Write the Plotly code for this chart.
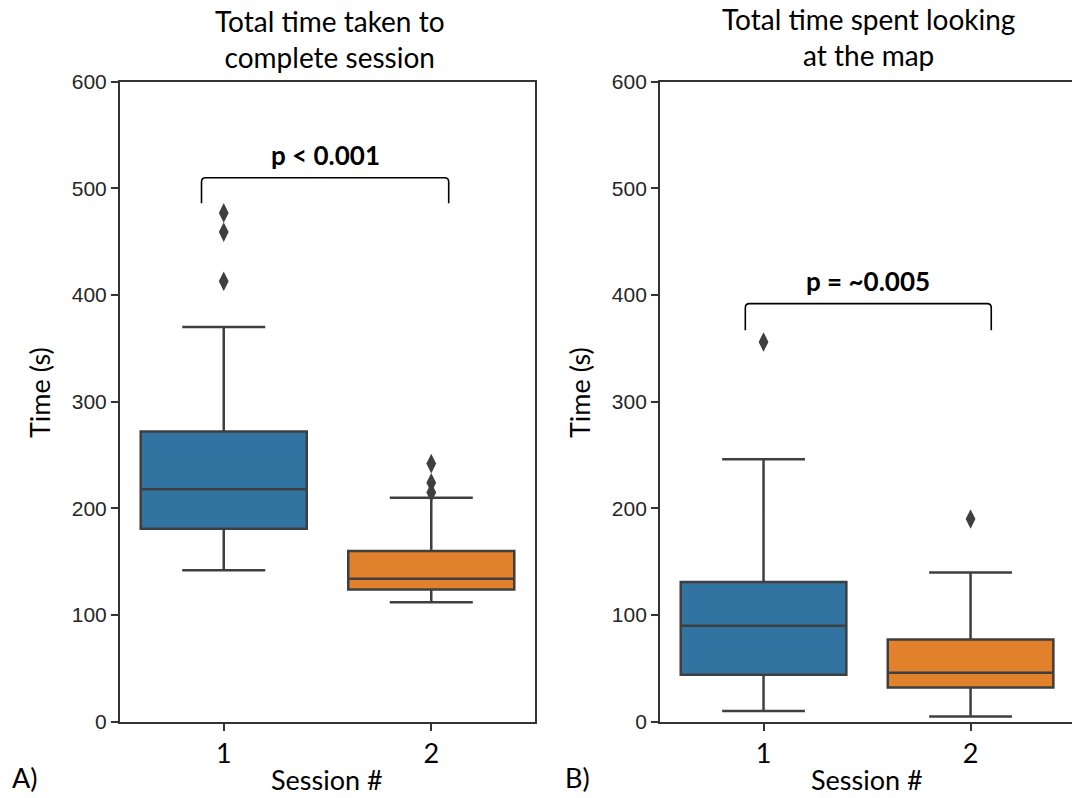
import plotly.graph_objects as go

# ---- data ----
sessions = ["1", "2"]
# Panel A: total time taken to complete session
a_q1 = [181, 124]
a_median = [218, 134]
a_q3 = [272, 160]
a_lower = [142, 112]
a_upper = [370, 210]
a_outliers = [[477, 459, 413], [242, 224, 215]]
a_pvalue = "p < 0.001"
a_bracket = [486, 510]  # bottom, top of bracket

# Panel B: total time spent looking at the map
b_q1 = [44, 32]
b_median = [90, 46]
b_q3 = [131, 77]
b_lower = [10, 5]
b_upper = [246, 140]
b_outliers = [[356], [190]]
b_pvalue = "p = ~0.005"
b_bracket = [367, 392]

y_ticks = [0, 100, 200, 300, 400, 500, 600]

colors = ["#3274a1", "#e1812c"]
edge = "#3f3f3f"
title_font = "Lato, Open Sans, sans-serif"
tick_font = "Liberation Sans, Arial, sans-serif"

fig = go.Figure()

panels = [
    ("x", "y", a_q1, a_median, a_q3, a_lower, a_upper, a_outliers, a_pvalue, a_bracket, (-0.107, 1.084)),
    ("x2", "y2", b_q1, b_median, b_q3, b_lower, b_upper, b_outliers, b_pvalue, b_bracket, (-0.088, 1.10)),
]

for xr, yr, q1, med, q3, lo, up, outs, ptxt, br, bx in panels:
    for i in range(len(sessions)):
        fig.add_trace(go.Box(
            x=[i], q1=[q1[i]], median=[med[i]], q3=[q3[i]],
            lowerfence=[lo[i]], upperfence=[up[i]],
            width=0.8, whiskerwidth=0.5,
            fillcolor=colors[i], line=dict(color=edge, width=2.5),
            boxpoints=False, xaxis=xr, yaxis=yr, showlegend=False,
        ))
        fig.add_trace(go.Scatter(
            x=[i] * len(outs[i]), y=outs[i], mode="markers",
            marker=dict(symbol="diamond-tall", size=14, color=edge),
            xaxis=xr, yaxis=yr, showlegend=False,
        ))
    x0, x1 = bx
    yb, yt = br
    r = 0.02
    ry = 4
    path = (f"M {x0},{yb} L {x0},{yt-ry} Q {x0},{yt} {x0+r},{yt} "
            f"L {x1-r},{yt} Q {x1},{yt} {x1},{yt-ry} L {x1},{yb}")
    fig.add_shape(type="path", path=path, xref=xr, yref=yr,
                  line=dict(color="black", width=1.6))
    fig.add_annotation(x=(x0 + x1) / 2, y=yt, yshift=23, xref=xr, yref=yr,
                       text=f"<b>{ptxt}</b>", showarrow=False, yanchor="middle",
                       font=dict(family=title_font, size=26, color="black"))

axis_common = dict(
    showline=True, linecolor="#333333", linewidth=2, mirror=True,
    ticks="outside", ticklen=7, tickwidth=1.5, tickcolor="#333333",
    showgrid=False, zeroline=False, automargin=False,
)

ydom = [0.0956, 0.8976]
fig.update_layout(
    width=1072, height=798, autosize=False,
    margin=dict(l=0, r=0, t=0, b=0, pad=0),
    plot_bgcolor="white", paper_bgcolor="white",
    xaxis=dict(domain=[0.1119, 0.4991], range=[-0.5, 1.5], tickvals=[0, 1], ticktext=sessions,
               tickfont=dict(family=title_font, size=27, color="black"), anchor="y", **axis_common),
    yaxis=dict(domain=ydom, range=[0, 600], tickvals=y_ticks, anchor="x",
               tickfont=dict(family=tick_font, size=21, color="#262626"), **axis_common),
    xaxis2=dict(domain=[0.6157, 1.0], range=[-0.5, 1.49], tickvals=[0, 1], ticktext=sessions,
                tickfont=dict(family=title_font, size=27, color="black"), anchor="y2", **axis_common),
    yaxis2=dict(domain=ydom, range=[0, 600], tickvals=y_ticks, anchor="x2",
                tickfont=dict(family=tick_font, size=21, color="#262626"), **axis_common),
)

texts = [
    (330, 39, "Total time taken to<br>complete session", 28, title_font, "black", 0),
    (868, 37, "Total time spent looking<br>at the map", 28, title_font, "black", 0),
    (327, 779, "Session #", 27, title_font, "black", 0),
    (867, 779, "Session #", 27, title_font, "black", 0),
    (25, 777, "A)", 27, title_font, "black", 0),
    (577, 777, "B)", 27, title_font, "black", 0),
    (40, 393, "Time (s)", 27, title_font, "black", -90),
    (580, 393, "Time (s)", 27, title_font, "black", -90),
]
for px, py, t, sz, fam, col, ang in texts:
    fig.add_annotation(x=px / 1072, y=1 - py / 798, xref="paper", yref="paper",
                       text=t, showarrow=False, textangle=ang,
                       xanchor="center", yanchor="middle",
                       font=dict(family=fam, size=sz, color=col))

fig.write_html("out.html", config={"responsive": False, "displayModeBar": False},
               post_script="document.body.style.margin='0';document.body.style.overflow='hidden';")
